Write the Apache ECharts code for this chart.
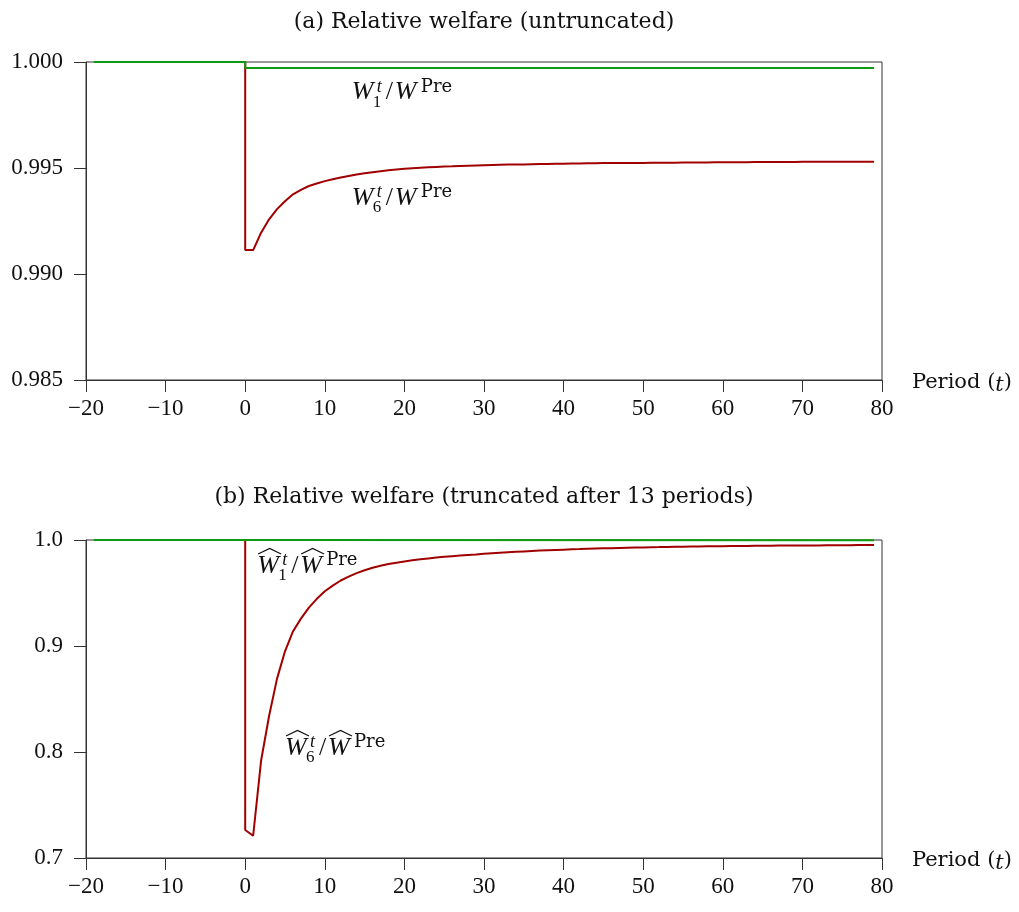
<!DOCTYPE html>
<html>
<head>
<meta charset="utf-8">
<script src="https://cdn.jsdelivr.net/npm/echarts@6/dist/echarts.min.js"></script>
<style>
  html, body { margin: 0; padding: 0; background: #fff; }
  #chart { width: 1019px; height: 912px; }
</style>
</head>
<body>
<div id="chart"></div>
<script>
// ---- data ----
const xTicks = [-20, -10, 0, 10, 20, 30, 40, 50, 60, 70, 80];
const yTicksA = [0.985, 0.990, 0.995, 1.000];
const yTicksB = [0.7, 0.8, 0.9, 1.0];

const preStart = -19;          // first plotted period
const preLevel = 1.0;          // both ratios equal one before the shock
const w1Level = 0.99972;       // W1 after the shock (flat)
const w1HatLevel = 0.9997;

// periods 0..79 after the shock
const postPeriods = Array.from({ length: 80 }, (_, i) => i);

const w6 = [
  0.99113, 0.99113, 0.99195, 0.99258, 0.99306, 0.99343, 0.99376, 0.99397, 0.99415, 0.99427,
  0.99438, 0.99447, 0.99455, 0.99462, 0.99469, 0.99475, 0.99480, 0.99485, 0.99489, 0.99493,
  0.99496, 0.99499, 0.99501, 0.99503, 0.99505, 0.99507, 0.99508, 0.99510, 0.99511, 0.99512,
  0.99513, 0.99514, 0.99515, 0.99516, 0.99517, 0.99517, 0.99518, 0.99519, 0.99519, 0.99520,
  0.99520, 0.99521, 0.99521, 0.99522, 0.99522, 0.99523, 0.99523, 0.99523, 0.99524, 0.99524,
  0.99524, 0.99525, 0.99525, 0.99525, 0.99525, 0.99526, 0.99526, 0.99526, 0.99526, 0.99527,
  0.99527, 0.99527, 0.99527, 0.99527, 0.99528, 0.99528, 0.99528, 0.99528, 0.99528, 0.99528,
  0.99529, 0.99529, 0.99529, 0.99529, 0.99529, 0.99529, 0.99530, 0.99530, 0.99530, 0.99530
];

const w6Hat = [
  0.7264, 0.7210, 0.7920, 0.8340, 0.8692, 0.8950, 0.9137, 0.9258, 0.9362, 0.9445,
  0.9517, 0.9570, 0.9618, 0.9654, 0.9688, 0.9715, 0.9738, 0.9757, 0.9773, 0.9786,
  0.9797, 0.9808, 0.9818, 0.9826, 0.9834, 0.9841, 0.9847, 0.9853, 0.9858, 0.9863,
  0.9871, 0.9876, 0.9880, 0.9884, 0.9888, 0.9892, 0.9896, 0.9900, 0.9903, 0.9906,
  0.9909, 0.9912, 0.9914, 0.9917, 0.9919, 0.9921, 0.9923, 0.9925, 0.9927, 0.9929,
  0.9930, 0.9932, 0.9933, 0.9935, 0.9936, 0.9937, 0.9938, 0.9939, 0.9940, 0.9941,
  0.9942, 0.9943, 0.9944, 0.9944, 0.9945, 0.9946, 0.9946, 0.9947, 0.9947, 0.9948,
  0.9948, 0.9949, 0.9949, 0.9950, 0.9950, 0.9951, 0.9951, 0.9952, 0.9952, 0.9953
];

// ---- styling ----
const GREEN = '#0f9a0f';
const RED = '#a00000';
const AXIS = '#333';
const TICK_FONT = 'Liberation Serif';
const TEXT_FONT = 'DejaVu Serif';

function withPre(postVals) {
  const pts = [[preStart, preLevel], [0, preLevel]];
  postPeriods.forEach((t, i) => pts.push([t, postVals[i]]));
  return pts;
}
function flat(level) {
  return [[preStart, preLevel], [0, preLevel], [0, level], [postPeriods[postPeriods.length - 1], level]];
}

const chart = echarts.init(document.getElementById('chart'), null, { renderer: 'canvas' });

function xAxisFor(gi) {
  return {
    type: 'value', gridIndex: gi, min: xTicks[0], max: xTicks[xTicks.length - 1], interval: 10,
    axisLine: { onZero: false, lineStyle: { color: AXIS, width: 1 } },
    axisTick: { inside: false, length: 12, lineStyle: { color: AXIS } },
    splitLine: { show: false },
    axisLabel: {
      margin: 17, color: '#111', fontFamily: TICK_FONT, fontSize: 23,
      formatter: v => (v < 0 ? '\u2212' + Math.abs(v) : String(v))
    },
    name: 'Period ({i|t})', nameLocation: 'end', nameGap: 30,
    nameTextStyle: {
      color: '#111', fontFamily: TEXT_FONT, fontSize: 21, verticalAlign: 'middle',
      padding: [6, 0, 0, 0],
      rich: { i: { fontStyle: 'italic', fontFamily: TEXT_FONT, fontSize: 21, color: '#111', padding: [6, 0, 0, 0] } }
    }
  };
}
function yAxisFor(gi, ticks, digits) {
  return {
    type: 'value', gridIndex: gi, min: ticks[0], max: ticks[ticks.length - 1],
    interval: +(ticks[1] - ticks[0]).toFixed(6),
    axisLine: { onZero: false, lineStyle: { color: AXIS, width: 1 } },
    axisTick: { inside: false, length: 12, lineStyle: { color: AXIS } },
    splitLine: { show: false },
    axisLabel: {
      margin: 23, color: '#111', fontFamily: TICK_FONT, fontSize: 23,
      formatter: v => v.toFixed(digits)
    }
  };
}
function line(name, gi, data, color) {
  return {
    name, type: 'line', xAxisIndex: gi, yAxisIndex: gi, data,
    showSymbol: false, symbol: 'none', smooth: false, animation: false,
    lineStyle: { color, width: 2 }, z: color === GREEN ? 3 : 2
  };
}

const option = {
  backgroundColor: '#fff',
  animation: false,
  grid: [
    { left: 86, right: 137, top: 62, height: 318, show: true, borderColor: AXIS, borderWidth: 1, backgroundColor: 'transparent' },
    { left: 86, right: 137, top: 540, height: 318, show: true, borderColor: AXIS, borderWidth: 1, backgroundColor: 'transparent' }
  ],
  xAxis: [xAxisFor(0), xAxisFor(1)],
  yAxis: [yAxisFor(0, yTicksA, 3), yAxisFor(1, yTicksB, 1)],
  series: [
    line('W1', 0, flat(w1Level), GREEN),
    line('W6', 0, withPre(w6), RED),
    line('W1hat', 1, flat(w1HatLevel), GREEN),
    line('W6hat', 1, withPre(w6Hat), RED)
  ]
};
chart.setOption(option);

// ---- text: titles and math labels ----
// y is the baseline; text is laid out from its top, so shift by ~0.78 em
function txt(text, x, y, size, italic, family, align) {
  return {
    type: 'text', x, y: y - 0.78 * size, silent: true,
    style: {
      text, fill: '#111', fontSize: size, fontFamily: family || TICK_FONT,
      fontStyle: italic ? 'italic' : 'normal',
      align: align || 'left', verticalAlign: 'top',
      textAlign: align || 'left', textVerticalAlign: 'top'
    }
  };
}
// W_sub^t / W^Pre, anchored at left baseline
function mathLabel(p, sub, hat) {
  const big = 26;
  const children = [
    txt('W', 0, 0, big, true),
    txt('t', 25, -8, 18, true),
    txt(sub, 21, 7, 17, false),
    txt('/', 34, 0, big, false),
    txt('W', 43, 0, big, true),
    txt('Pre', 69, -8, 18, false, TEXT_FONT)
  ];
  if (hat) {
    [0, 43].forEach(x0 => children.push({
      type: 'polyline', silent: true,
      shape: { points: [[x0 + 1, -19], [x0 + 12.5, -24.5], [x0 + 24, -19]] },
      style: { stroke: '#111', lineWidth: 1.2, fill: null }
    }));
  }
  return { type: 'group', x: p[0], y: p[1], children };
}

function drawText() {
  const cA = chart.convertToPixel({ gridIndex: 0 }, [30, 1]);
  const cB = chart.convertToPixel({ gridIndex: 1 }, [30, 1]);
  const elements = [
    txt('(a) Relative welfare (untruncated)', cA[0], 28, 22, false, TEXT_FONT, 'center'),
    txt('(b) Relative welfare (truncated after 13 periods)', cB[0], 503, 22, false, TEXT_FONT, 'center'),
    mathLabel(chart.convertToPixel({ gridIndex: 0 }, [13.4, 0.99821]), '1', false),
    mathLabel(chart.convertToPixel({ gridIndex: 0 }, [13.4, 0.99325]), '6', false),
    mathLabel(chart.convertToPixel({ gridIndex: 1 }, [1.5, 0.9689]), '1', true),
    mathLabel(chart.convertToPixel({ gridIndex: 1 }, [5.0, 0.7972]), '6', true)
  ];
  chart.setOption({ graphic: { elements } });
}
drawText();
</script>
</body>
</html>
